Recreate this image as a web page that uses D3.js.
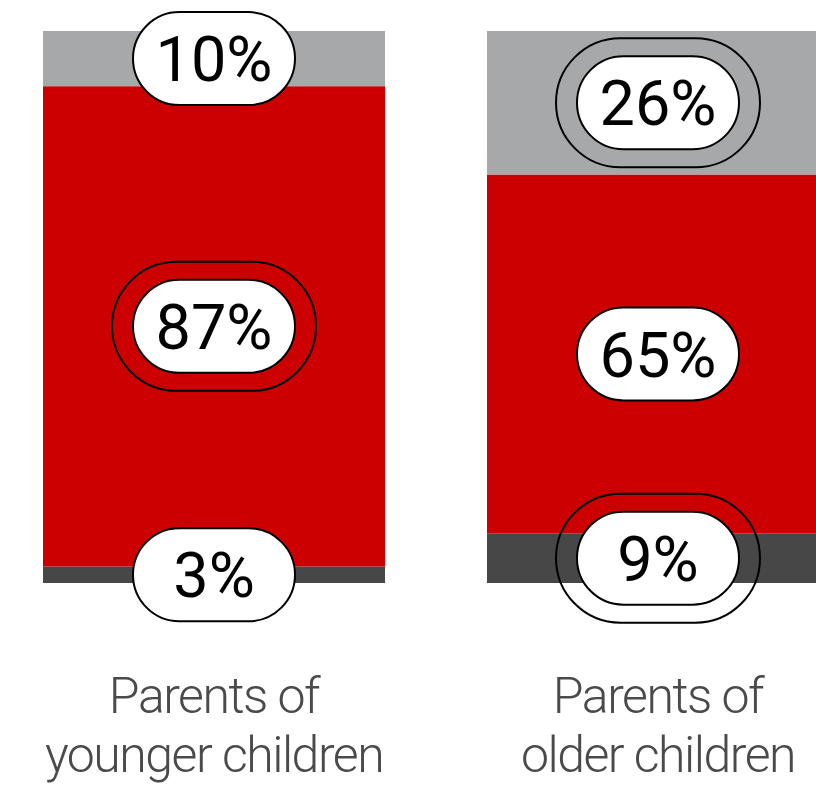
<!DOCTYPE html>
<html>
<head>
<meta charset="utf-8">
<script src="https://cdn.jsdelivr.net/npm/d3@7"></script>
<style>
  html, body { margin: 0; padding: 0; background: #fff; }
  svg { display: block; }
</style>
</head>
<body>
<svg id="chart" width="816" height="787"></svg>
<script>
// Survey groups (one stacked bar each)
const groups = ["Parents of younger children", "Parents of older children"];
const groupLines = [["Parents of", "younger children"], ["Parents of", "older children"]];

// Shares per group, stacked bottom to top
const bottomShare = [3, 9];
const middleShare = [87, 65];
const topShare = [10, 26];

// Which labels get an extra highlight ring: [bottom, middle, top]
const ringBottom = [false, true];
const ringMiddle = [true, false];
const ringTop = [false, true];

const keys = ["bottom", "middle", "top"];
const colors = { bottom: "#474747", middle: "#cc0000", top: "#a7a8aa" };

const rows = groups.map((g, i) => ({
  group: g,
  bottom: bottomShare[i],
  middle: middleShare[i],
  top: topShare[i],
  ring: { bottom: ringBottom[i], middle: ringMiddle[i], top: ringTop[i] }
}));

const svg = d3.select("#chart");

const x = d3.scaleBand()
  .domain(groups)
  .range([43, 829])
  .paddingInner(0.2297)
  .paddingOuter(0);

const y = d3.scaleLinear().domain([0, 100]).range([583, 31]);

const series = d3.stack().keys(keys)(rows);

// Stacked segments
svg.append("g")
  .selectAll("g")
  .data(series)
  .join("g")
  .attr("fill", d => colors[d.key])
  .selectAll("rect")
  .data(d => d)
  .join("rect")
  .attr("x", d => x(d.data.group))
  .attr("width", x.bandwidth())
  .attr("y", d => y(d[1]))
  .attr("height", d => y(d[0]) - y(d[1]));

// Value pills centred on each segment
const pillW = 162, pillH = 93;
const ringW = 204, ringH = 129;

const labels = [];
series.forEach(s => {
  s.forEach(d => {
    labels.push({
      key: s.key,
      value: d.data[s.key],
      cx: x(d.data.group) + x.bandwidth() / 2,
      cy: (y(d[0]) + y(d[1])) / 2,
      ring: d.data.ring[s.key]
    });
  });
});

const lab = svg.append("g")
  .selectAll("g")
  .data(labels)
  .join("g")
  .attr("transform", d => `translate(${d.cx},${d.cy})`);

lab.filter(d => d.ring)
  .append("rect")
  .attr("x", -ringW / 2)
  .attr("y", -ringH / 2)
  .attr("width", ringW)
  .attr("height", ringH)
  .attr("rx", ringH / 2)
  .attr("fill", "none")
  .attr("stroke", "#000")
  .attr("stroke-width", 2);

lab.append("rect")
  .attr("x", -pillW / 2)
  .attr("y", -pillH / 2)
  .attr("width", pillW)
  .attr("height", pillH)
  .attr("rx", pillH / 2)
  .attr("fill", "#fff")
  .attr("stroke", "#000")
  .attr("stroke-width", 2);

lab.append("text")
  .attr("text-anchor", "middle")
  .attr("dy", "0.36em")
  .attr("font-family", "Roboto, 'Noto Sans', sans-serif")
  .attr("font-size", 63)
  .attr("fill", "#000")
  .text(d => `${d.value}%`);

// Category names under the bars, two lines each
const cat = svg.append("g")
  .selectAll("g")
  .data(groups)
  .join("g")
  .attr("transform", d => `translate(${x(d) + x.bandwidth() / 2},0)`);

cat.selectAll("text")
  .data((d, i) => groupLines[i])
  .join("text")
  .attr("x", 0)
  .attr("y", (d, j) => 713 + j * 59)
  .attr("text-anchor", "middle")
  .attr("font-family", "Roboto, 'Noto Sans', sans-serif")
  .attr("font-weight", 300)
  .attr("font-size", 50)
  .attr("letter-spacing", "-1.5px")
  .attr("fill", "#4a4a4a")
  .text(d => d);
</script>
</body>
</html>
